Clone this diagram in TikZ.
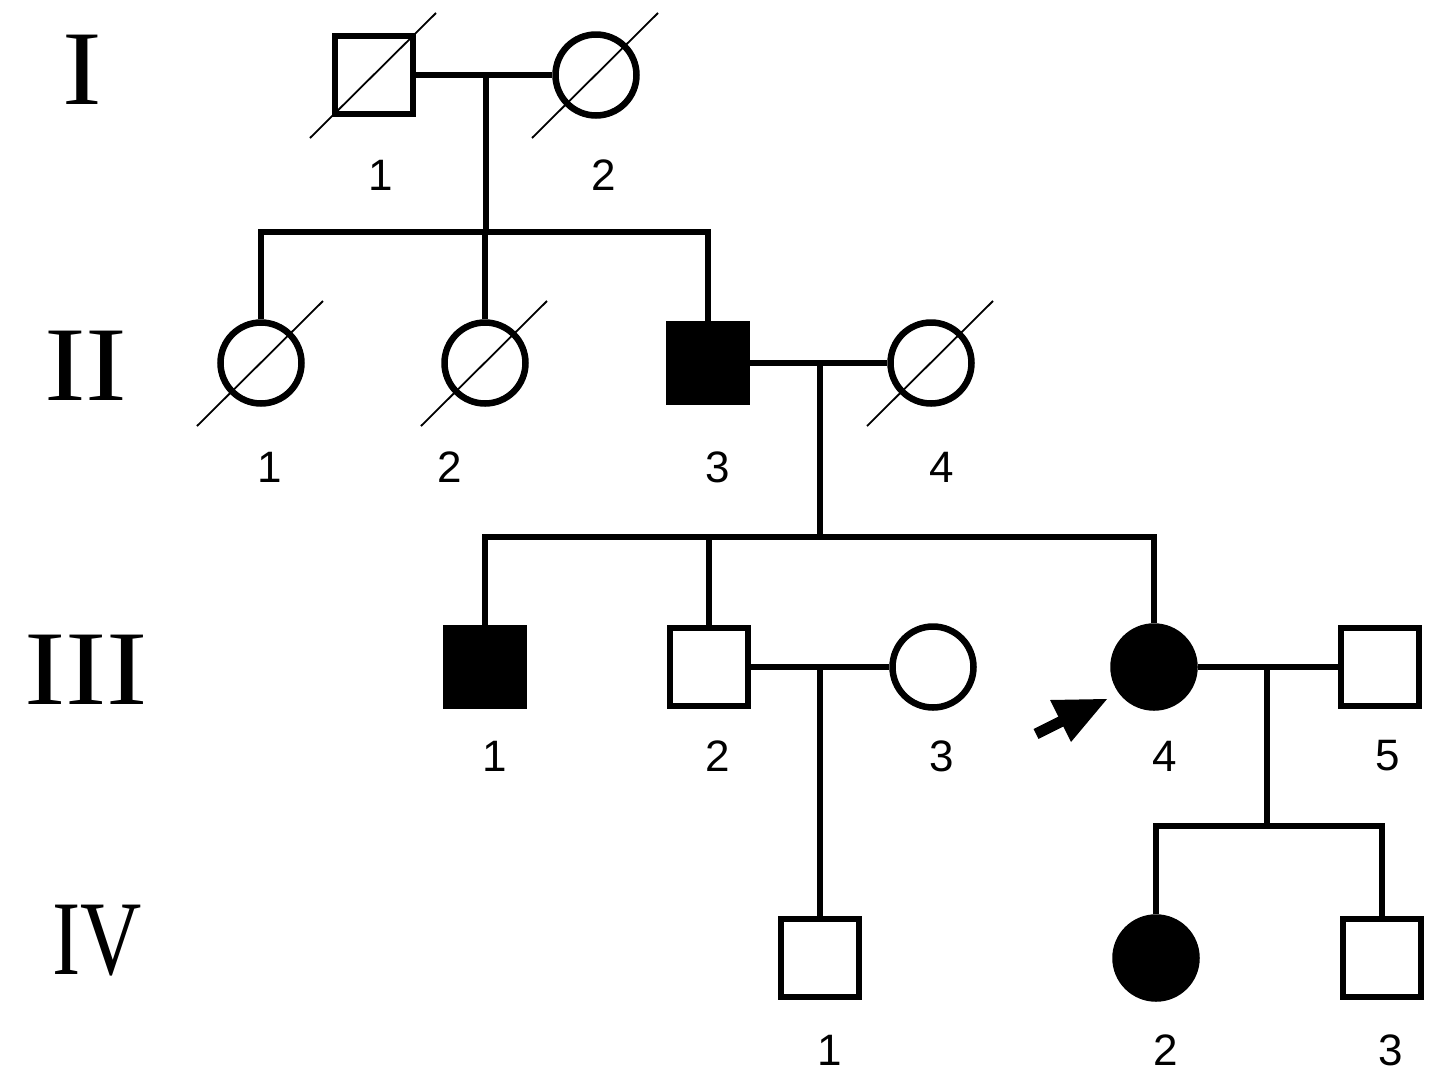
\documentclass[tikz,border=0pt]{standalone}
\usepackage{fontspec}
\setmainfont{Liberation Serif}
\newfontfamily\labfont{Liberation Sans}
\begin{document}
\begin{tikzpicture}[x=0.5pt,y=-0.5pt,
  lw/.style={line width=3.25pt},
  male/.style={draw,lw,rectangle,minimum size=39pt,inner sep=0pt},
  female/.style={draw,lw,circle,minimum size=40.5pt,inner sep=0pt},
  affected/.style={fill=black},
  conn/.style={lw,line join=miter},
  slash/.style={line width=0.9pt},
  idlab/.style={inner sep=0pt,font=\labfont\fontsize{22}{26}\selectfont},
  genlab/.style={inner sep=0pt,font=\fontsize{53}{60}\selectfont}
]
\useasboundingbox (0,0) rectangle (1441,1088);

% generation labels
\node[genlab,xscale=1.12] (gI)   at (82,70)   {I};
\node[genlab,xscale=1.18] (gII)  at (86,366)  {II};
\node[genlab,xscale=1.17] (gIII) at (86,670)  {III};
\node[genlab,xscale=0.8]  (gIV)  at (97,941)  {IV};

% generation I
\node[male]   (I1) at (374,75) {};
\node[female] (I2) at (596,75) {};
% generation II
\node[female] (II1) at (261,363) {};
\node[female] (II2) at (485,363) {};
\node[male,affected] (II3) at (708,363) {};
\node[female] (II4) at (931,363) {};
% generation III
\node[male,affected] (III1) at (485,667) {};
\node[male]   (III2) at (709,667) {};
\node[female] (III3) at (933,667) {};
\node[female,affected] (III4) at (1154,667) {};
\node[male]   (III5) at (1380,667) {};
% generation IV
\node[male]   (IV1) at (820,958) {};
\node[female,affected] (IV2) at (1156,958) {};
\node[male]   (IV3) at (1382,958) {};

% coordinates for marriage midpoints and sibship lines
\coordinate (mI)   at (486,75);
\coordinate (sII)  at (486,232);
\coordinate (mII)  at (820,363);
\coordinate (sIII) at (820,537);
\coordinate (mIIIa) at (820,667);
\coordinate (mIIIb) at (1267,667);
\coordinate (sIV)  at (1267,826);

% marriages
\draw[conn] (I1.east) -- (I2.west);
\draw[conn] (II3.east) -- (II4.west);
\draw[conn] (III2.east) -- (III3.west);
\draw[conn] (III4.east) -- (III5.west);

% descent lines
\draw[conn] (mI) -- (sII);
\draw[conn] (II1.north) |- (sII) -| (II3.north);
\draw[conn] (II2.north) -- (II2.north |- sII);

\draw[conn] (mII) -- (sIII);
\draw[conn] (III1.north) |- (sIII) -| (III4.north);
\draw[conn] (III2.north) -- (III2.north |- sIII);

\draw[conn] (mIIIa) -- (IV1.north);

\draw[conn] (mIIIb) -- (sIV);
\draw[conn] (IV2.north) |- (sIV) -| (IV3.north);

% deceased slashes
\foreach \n in {I1,I2,II1,II2,II4}{
  \draw[slash] ([shift={(-64,63)}]\n.center) -- ([shift={(62,-62)}]\n.center);
}

% proband arrow
\coordinate (arT) at (1036,734);
\coordinate (arM) at (1066,719);
\draw[line width=5.5pt] (arT) -- (arM);
\fill (1107,699) -- (1050,700) -- (1071,742) -- cycle;

% individual numbers
\node[idlab] (lI1) at (381,175) {1};
\node[idlab] (lI2) at (604,175) {2};
\node[idlab] (lII1) at (270,467) {1};
\node[idlab] (lII2) at (450,467) {2};
\node[idlab] (lII3) at (718,467) {3};
\node[idlab] (lII4) at (942,467) {4};
\node[idlab] (lIII1) at (495,756) {1};
\node[idlab] (lIII2) at (718,756) {2};
\node[idlab] (lIII3) at (942,756) {3};
\node[idlab] (lIII4) at (1165,756) {4};
\node[idlab] (lIII5) at (1388,756) {5};
\node[idlab] (lIV1) at (830,1050) {1};
\node[idlab] (lIV2) at (1166,1050) {2};
\node[idlab] (lIV3) at (1391,1050) {3};
\end{tikzpicture}
\end{document}
